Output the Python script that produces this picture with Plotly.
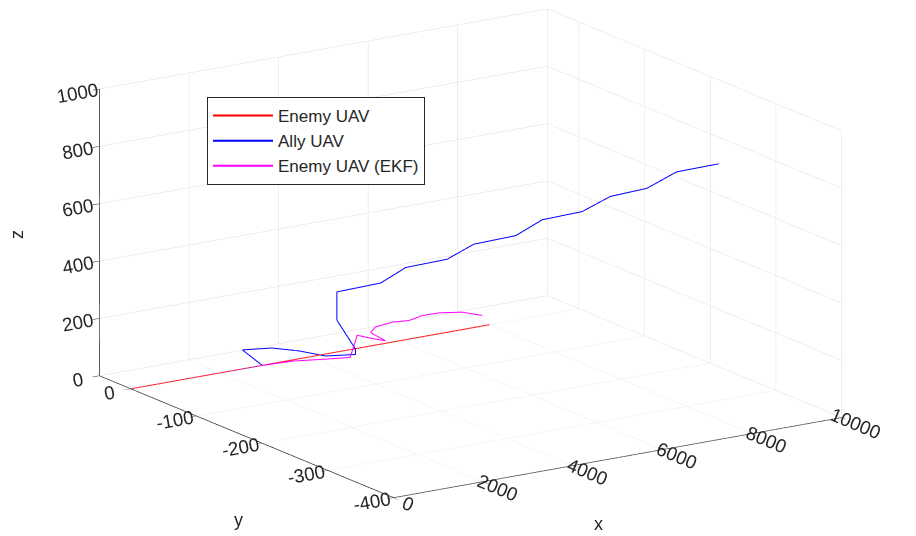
import plotly.graph_objects as go
import math

# Enemy UAV (true)
enemy_x = [0, 2000, 4000, 6000, 8000]
enemy_y = [0, 0, 0, 0, 0]
enemy_z = [0, 0, 0, 0, 0]

# Ally UAV
ally_x = [1970, 2930, 3150, 3740, 4050, 4270, 4795, 4790, 4790, 4790, 5500, 5800, 6150, 6450, 6800, 7100, 7450, 7750, 8100, 8400, 8750]
ally_y = [0, 0, 45, 40, 20, -5, -15, -15, 13, 13, -5, -23, -62, -82, -122, -142, -179, -201, -233, -258, -298]
ally_z = [0, 0, 5, 0, 0, 0, 0, 20, 93, 192, 220, 283, 339, 402, 460, 526, 580, 645, 694, 767, 823]

# Enemy UAV (EKF estimate)
ekf_x = [0, 2860, 3563, 4147, 4598, 4685, 4759, 5094, 5391, 5056, 5161, 5540, 5913, 6210, 6583, 7103, 7549]
ekf_y = [0, 0, -3, -13, -20, -20, -20, -20, -20, -20, -20, -20, -20, -20, -20, -20, -20]
ekf_z = [0, 0, 0, 0, 0, 38, 73, 52, 36, 74, 90, 97, 92, 101, 100, 88, 64]

x_ticks = [0, 2000, 4000, 6000, 8000, 10000]
y_ticks = [-400, -300, -200, -100, 0]
z_ticks = [0, 200, 400, 600, 800, 1000]

FONT = "Liberation Sans"
TXT = "#262626"
GRID = "#dedede"

fig = go.Figure()
fig.add_trace(go.Scatter3d(x=enemy_x, y=enemy_y, z=enemy_z, mode="lines",
                           line=dict(color="#ff0000", width=2), name="Enemy UAV"))
fig.add_trace(go.Scatter3d(x=ally_x, y=ally_y, z=ally_z, mode="lines",
                           line=dict(color="#0000ff", width=2), name="Ally UAV"))
fig.add_trace(go.Scatter3d(x=ekf_x, y=ekf_y, z=ekf_z, mode="lines",
                           line=dict(color="#ff00ff", width=2), name="Enemy UAV (EKF)"))

def ax(rng, ticks):
    return dict(title=dict(text=""),
                range=rng, tickvals=ticks, ticktext=[str(t) for t in ticks],
                showbackground=False, gridcolor=GRID, gridwidth=1,
                showline=True, linecolor=TXT, linewidth=1.5,
                ticks="outside", tickcolor=TXT, ticklen=8,
                zeroline=False, showspikes=False,
                tickfont=dict(family=FONT, size=15, color=TXT))

phi = math.radians(236.7)
el = math.radians(15.4)
d = 8.0
eye = dict(x=d * math.cos(el) * math.cos(phi), y=d * math.cos(el) * math.sin(phi), z=d * math.sin(el))
S = 2.0

titles = [("x", 598, 524, 0), ("y", 238, 520, 0), ("z", 17, 235, -90)]
annotations = [dict(text=t, x=px / 916, y=1 - py / 536, xref="paper", yref="paper",
                    showarrow=False, textangle=ang, xanchor="center", yanchor="middle",
                    font=dict(family=FONT, size=18, color=TXT))
               for t, px, py, ang in titles]

fig.update_layout(
    width=916, height=536,
    margin=dict(l=0, r=0, t=0, b=0),
    paper_bgcolor="white",
    font=dict(family=FONT, color=TXT),
    scene=dict(
        domain=dict(x=[0.027, 1.0], y=[0.0, 1.0]),
        xaxis=ax([0, 10000], x_ticks),
        yaxis=ax([-400, 48], y_ticks),
        zaxis=ax([0, 1000], z_ticks),
        aspectmode="manual",
        aspectratio=dict(x=S, y=S, z=0.556 * S),
        camera=dict(eye=eye, up=dict(x=0, y=0, z=1), center=dict(x=0, y=0, z=-0.057),
                    projection=dict(type="orthographic")),
        bgcolor="white",
    ),
    annotations=annotations,
    legend=dict(x=0.226, y=0.819, xanchor="left", yanchor="top",
                bordercolor=TXT, borderwidth=1, bgcolor="white", itemwidth=60,
                font=dict(family=FONT, size=17, color=TXT)),
    showlegend=True,
)

fig.write_html("out.html")
